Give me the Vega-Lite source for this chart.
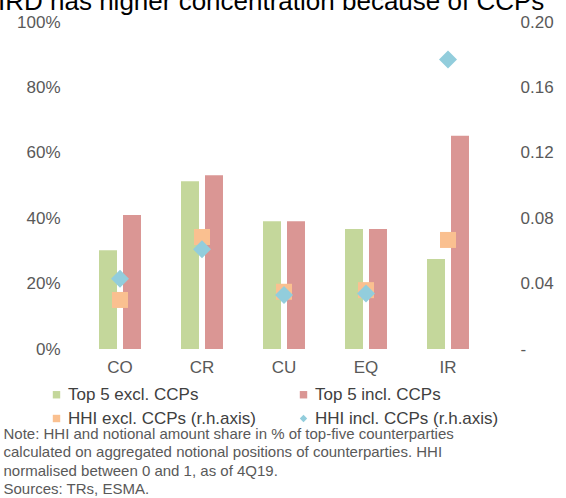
{
  "$schema": "https://vega.github.io/schema/vega-lite/v6.json",
  "width": 410,
  "height": 327,
  "autosize": "none",
  "padding": {"left": 79, "top": 22, "right": 77, "bottom": 149},
  "background": "white",
  "config": {
    "font": "Liberation Sans",
    "view": {"stroke": null},
    "axis": {"grid": false, "domain": false, "ticks": false, "labelFont": "Liberation Sans", "labelFontSize": 17, "labelColor": "#595959"}
  },
  "title": {
    "text": "IRD has higher concentration because of CCPs",
    "anchor": "start",
    "frame": "group",
    "fontSize": 26,
    "fontWeight": "normal",
    "font": "Liberation Sans",
    "color": "#000000",
    "dx": -81,
    "dy": 6
  },
  "datasets": {
    "bars": [
      {"cat": "CO", "series": "Top 5 excl. CCPs", "value": 30.2},
      {"cat": "CO", "series": "Top 5 incl. CCPs", "value": 41.0},
      {"cat": "CR", "series": "Top 5 excl. CCPs", "value": 51.3},
      {"cat": "CR", "series": "Top 5 incl. CCPs", "value": 53.1},
      {"cat": "CU", "series": "Top 5 excl. CCPs", "value": 39.1},
      {"cat": "CU", "series": "Top 5 incl. CCPs", "value": 39.1},
      {"cat": "EQ", "series": "Top 5 excl. CCPs", "value": 36.7},
      {"cat": "EQ", "series": "Top 5 incl. CCPs", "value": 36.7},
      {"cat": "IR", "series": "Top 5 excl. CCPs", "value": 27.5},
      {"cat": "IR", "series": "Top 5 incl. CCPs", "value": 65.2}
    ],
    "hhi": [
      {"cat": "CO", "series": "HHI excl. CCPs (r.h.axis)", "value": 0.030},
      {"cat": "CO", "series": "HHI incl. CCPs (r.h.axis)", "value": 0.043},
      {"cat": "CR", "series": "HHI excl. CCPs (r.h.axis)", "value": 0.0685},
      {"cat": "CR", "series": "HHI incl. CCPs (r.h.axis)", "value": 0.061},
      {"cat": "CU", "series": "HHI excl. CCPs (r.h.axis)", "value": 0.035},
      {"cat": "CU", "series": "HHI incl. CCPs (r.h.axis)", "value": 0.033},
      {"cat": "EQ", "series": "HHI excl. CCPs (r.h.axis)", "value": 0.036},
      {"cat": "EQ", "series": "HHI incl. CCPs (r.h.axis)", "value": 0.034},
      {"cat": "IR", "series": "HHI excl. CCPs (r.h.axis)", "value": 0.0667},
      {"cat": "IR", "series": "HHI incl. CCPs (r.h.axis)", "value": 0.177}
    ]
  },
  "layer": [
    {
      "data": {"name": "bars"},
      "mark": {"type": "bar"},
      "encoding": {
        "x": {
          "field": "cat", "type": "nominal", "sort": null,
          "scale": {"paddingInner": 0.488, "paddingOuter": 0.244},
          "axis": {
            "labelAngle": 0, "labelPadding": 10,
            "title": ["Note: HHI and notional amount share in % of top-five counterparties", "calculated on aggregated  notional positions of counterparties. HHI", "normalised between  0 and  1, as of 4Q19.", "Sources: TRs, ESMA."],
            "titleFontSize": 15, "titleFontWeight": "normal", "titleColor": "#595959",
            "titleAnchor": "start", "titleAlign": "left", "titleBaseline": "top",
            "titleX": -76, "titleY": 77, "titleLineHeight": 18.5
          }
        },
        "xOffset": {"field": "series", "type": "nominal", "sort": null, "scale": {"paddingInner": 0.25, "paddingOuter": 0}},
        "y": {
          "field": "value", "type": "quantitative",
          "scale": {"domain": [0, 100], "nice": false},
          "axis": {"orient": "left", "title": null, "values": [0, 20, 40, 60, 80, 100], "labelExpr": "datum.value + '%'", "labelPadding": 19}
        },
        "color": {
          "field": "series", "type": "nominal",
          "scale": {
            "domain": ["Top 5 excl. CCPs", "Top 5 incl. CCPs", "HHI excl. CCPs (r.h.axis)", "HHI incl. CCPs (r.h.axis)"],
            "range": ["#c4d79b", "#da9694", "#fac090", "#92cddc"]
          },
          "legend": {
            "title": null, "orient": "none", "legendX": -31, "legendY": 364,
            "direction": "horizontal",
            "columns": 2, "columnPadding": 39, "rowPadding": 6,
            "labelFontSize": 17, "labelColor": "#404040", "labelFont": "Liberation Sans", "labelLimit": 300,
            "symbolSize": 55, "symbolType": "square", "labelOffset": 3,
            "encode": {"symbols": {"update": {"shape": [{"test": "datum.label === 'HHI incl. CCPs (r.h.axis)'", "value": "diamond"}, {"value": "square"}]}}}
          }
        }
      }
    },
    {
      "data": {"name": "hhi"},
      "mark": {"type": "point", "filled": true, "opacity": 1},
      "encoding": {
        "x": {"field": "cat", "type": "nominal", "sort": null},
        "y": {
          "field": "value", "type": "quantitative",
          "scale": {"domain": [0, 0.2], "nice": false},
          "axis": {"orient": "right", "title": null, "values": [0, 0.04, 0.08, 0.12, 0.16, 0.2], "labelExpr": "datum.value === 0 ? '-' : format(datum.value, '.2f')", "labelPadding": 31}
        },
        "color": {"field": "series", "type": "nominal"},
        "shape": {"field": "series", "type": "nominal", "scale": {"domain": ["HHI excl. CCPs (r.h.axis)", "HHI incl. CCPs (r.h.axis)"], "range": ["square", "diamond"]}, "legend": null},
        "size": {"field": "series", "type": "nominal", "scale": {"domain": ["HHI excl. CCPs (r.h.axis)", "HHI incl. CCPs (r.h.axis)"], "range": [256, 324]}, "legend": null}
      }
    }
  ],
  "resolve": {"scale": {"y": "independent"}}
}
